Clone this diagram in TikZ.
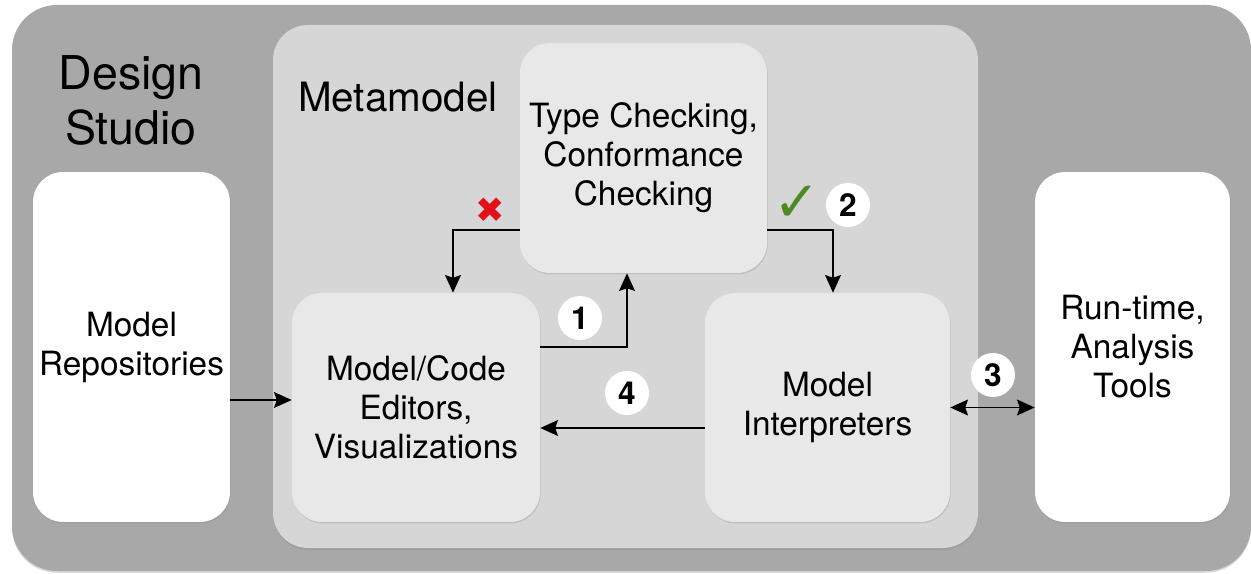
\documentclass[tikz,border=0pt]{standalone}
\usepackage{fontspec}
\setmainfont{TeX Gyre Heros}
\newfontfamily\symfont{DejaVu Sans}
\usetikzlibrary{arrows.meta,calc,shadows}

\definecolor{studiogray}{HTML}{A8A8A8}
\definecolor{metagray}{HTML}{D6D6D6}
\definecolor{boxgray}{HTML}{E8E8E8}
\definecolor{okgreen}{HTML}{4E8A22}
\definecolor{failred}{HTML}{E3101A}

\tikzset{flowtip/.tip={Stealth[length=10pt,width=9pt,inset=1.5pt]}}

\begin{document}
\begin{tikzpicture}[x=0.02cm,y=-0.02cm,
  box/.style={rectangle,rounded corners=0.6cm,fill=boxgray,align=center,
    minimum height=4.58cm,
    font=\fontsize{19}{22.2}\selectfont,
    drop shadow={opacity=0.25,shadow xshift=0.4pt,shadow yshift=-0.8pt}},
  endbox/.style={box,fill=white,minimum height=7cm},
  num/.style={circle,fill=white,inner sep=0pt,minimum size=0.88cm,
    font=\fontsize{18}{18}\bfseries},
  link/.style={line width=1.1pt,-flowtip}]

\useasboundingbox (0,0) rectangle (1251,574);

% layers
\fill[studiogray,rounded corners=0.9cm,
  drop shadow={opacity=0.3,shadow xshift=0pt,shadow yshift=-1pt}]
  (12,5) rectangle (1251,571);
\fill[metagray,rounded corners=0.7cm,
  drop shadow={opacity=0.25,shadow xshift=0pt,shadow yshift=-1pt}]
  (273,25) rectangle (978,548);

\node[align=center,font=\fontsize{26.5}{31.3}\selectfont] (studio) at (131,100) {Design\\Studio};
\node[anchor=base west,font=\fontsize{23}{23}\selectfont] (meta) at (292,112) {Metamodel};

% boxes
\node[endbox,minimum width=3.94cm] (repo) at (131.5,347) {Model\\Repositories};
\node[endbox,minimum width=3.9cm] (tools) at (1132.5,347) {Run-time,\\Analysis\\Tools};
\node[box,minimum width=4.94cm,minimum height=4.6cm] (check) at (643.5,158) {Type Checking,\\Conformance\\Checking};
\node[box,minimum width=4.96cm] (editor) at (416,407.5) {Model/Code\\Editors,\\Visualizations};
\node[box,minimum width=4.9cm] (interp) at (827.5,407.5) {Model\\Interpreters};

% connectors
\draw[link] ([yshift=-1.44cm]check.west) -| ([xshift=0.74cm]editor.north);
\draw[link] ([yshift=-1.44cm]check.east) -| ([xshift=0.11cm]interp.north);
\draw[link] ([yshift=1.21cm]editor.east) -| ([xshift=-0.33cm]check.south);
\draw[link] ([yshift=-0.41cm]interp.west) -- ([yshift=-0.41cm]editor.east);
\draw[link] ([yshift=-1.06cm]repo.east) -- ([yshift=-1.06cm]repo.east -| editor.west);
\draw[link,flowtip-flowtip] (interp.east) -- (interp.east -| tools.west);

% marks and step numbers
\node[text=failred,font=\symfont\fontsize{20}{20}\selectfont] (fail) at (490,210) {✖};
\node[text=okgreen,font=\symfont\fontsize{32}{32}\selectfont] (pass) at (797,204) {✓};
\node[num] (n1) at (580,318) {1};
\node[num] (n2) at (848,205) {2};
\node[num] (n3) at (993,375) {3};
\node[num] (n4) at (627,393) {4};

\end{tikzpicture}
\end{document}
